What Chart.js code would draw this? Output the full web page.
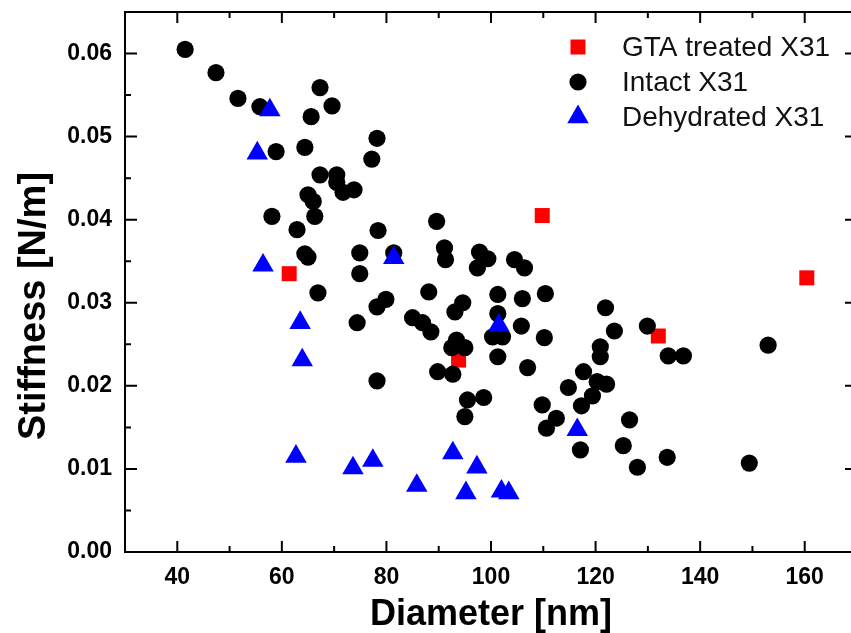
<!DOCTYPE html>
<html>
<head>
<meta charset="utf-8">
<script src="https://cdn.jsdelivr.net/npm/chart.js"></script>
<style>
    html, body { margin: 0; padding: 0; background: #fff; overflow: hidden; width: 851px; height: 633px; }
    canvas { display: block; }
</style>
</head>
<body>
<canvas id="stiffnessChart" width="857" height="633"></canvas>
<script>
const seriesNames = ['GTA treated X31', 'Intact X31', 'Dehydrated X31'];
const seriesColors = ['#ff0000', '#000000', '#0000ff'];

const xTicks = [40, 60, 80, 100, 120, 140, 160];
const yTicks = [0, 0.01, 0.02, 0.03, 0.04, 0.05, 0.06];

const gtaDiameter = [61.4, 109.8, 93.8, 132.0, 160.4];
const gtaStiffness = [0.0335, 0.0405, 0.0231, 0.0260, 0.0330];

const intactDiameter = [
    41.5, 47.4, 51.6, 55.8, 58.9, 64.4, 67.3, 69.6, 65.6, 78.2,
    77.2, 67.3, 70.5, 70.5, 71.7, 73.8, 65.0, 66.0, 66.3, 58.1,
    62.9, 78.4, 89.6, 64.4, 65.0, 74.9, 81.4, 74.9, 91.1, 91.3,
    97.8, 99.4, 97.4, 104.5, 106.4, 66.9, 79.9, 78.2, 88.1, 94.6,
    93.1, 74.4, 85.0, 86.9, 88.5, 101.3, 101.3, 106.0, 110.4, 105.8,
    100.3, 102.2, 110.2, 93.4, 92.5, 95.0, 101.3, 107.0, 89.8, 92.7,
    78.2, 95.5, 98.6, 95.0, 109.8, 112.5, 110.6, 121.9, 123.6, 129.9,
    133.9, 136.8, 153.0, 120.9, 120.9, 117.7, 120.3, 122.1, 114.8, 119.4,
    117.3, 117.1, 126.5, 125.3, 128.0, 133.7, 149.4
];
const intactStiffness = [
    0.0605, 0.0577, 0.0546, 0.0536, 0.0482, 0.0487, 0.0559, 0.0537, 0.0524, 0.0498,
    0.0473, 0.0454, 0.0454, 0.0445, 0.0433, 0.0436, 0.0430, 0.0422, 0.0404, 0.0404,
    0.0388, 0.0387, 0.0398, 0.0359, 0.0355, 0.0360, 0.0360, 0.0335, 0.0366, 0.0352,
    0.0361, 0.0353, 0.0342, 0.0352, 0.0342, 0.0312, 0.0304, 0.0295, 0.0313, 0.0300,
    0.0289, 0.0276, 0.0282, 0.0276, 0.0265, 0.0310, 0.0287, 0.0305, 0.0311, 0.0272,
    0.0259, 0.0259, 0.0258, 0.0255, 0.0246, 0.0246, 0.0235, 0.0222, 0.0217, 0.0214,
    0.0206, 0.0183, 0.0186, 0.0163, 0.0177, 0.0161, 0.0149, 0.0294, 0.0266, 0.0272,
    0.0236, 0.0236, 0.0249, 0.0247, 0.0235, 0.0217, 0.0205, 0.0202, 0.0198, 0.0188,
    0.0176, 0.0123, 0.0159, 0.0128, 0.0102, 0.0114, 0.0107
];

const dehydratedDiameter = [
    57.7, 55.3, 56.4, 81.4, 63.5, 63.9, 101.5, 116.5, 62.7, 73.6,
    77.4, 85.8, 92.7, 97.3, 95.2, 102.0, 103.4
];
const dehydratedStiffness = [
    0.0532, 0.0480, 0.0345, 0.0354, 0.0276, 0.0231, 0.0273, 0.0147, 0.0115, 0.0101,
    0.0110, 0.0080, 0.0119, 0.0102, 0.0071, 0.0073, 0.0071
];

const FONT = "'Liberation Sans', Arial, sans-serif";

function toPoints(xs, ys) {
    return xs.map((x, i) => ({ x: x, y: ys[i] }));
}

const pointStyles = [
    { pointStyle: 'rect', radius: 10.6 },
    { pointStyle: 'circle', radius: 8.6 },
    { pointStyle: 'triangle', radius: 12.4 }
];

// frame, inner ticks, axis titles and legend drawn over the plot
const framePlugin = {
    id: 'frame',
    afterDraw(chart) {
        const ctx = chart.ctx;
        const { left, right, top, bottom } = chart.chartArea;
        const xs = chart.scales.x;
        const ys = chart.scales.y;
        ctx.save();
        ctx.strokeStyle = '#000';
        ctx.lineWidth = 2;
        ctx.strokeRect(left, top, right - left, bottom - top);

        const xMinor = xTicks.slice(0, -1).map((v, i) => (v + xTicks[i + 1]) / 2);
        xMinor.unshift(xTicks[0] - (xTicks[1] - xTicks[0]) / 2);
        const yMinor = yTicks.slice(0, -1).map((v, i) => (v + yTicks[i + 1]) / 2);
        yMinor.push(yTicks[yTicks.length - 1] + (yTicks[1] - yTicks[0]) / 2);

        ctx.beginPath();
        xTicks.forEach(v => {
            const px = xs.getPixelForValue(v);
            ctx.moveTo(px, bottom); ctx.lineTo(px, bottom - 11);
            ctx.moveTo(px, top); ctx.lineTo(px, top + 11);
        });
        xMinor.forEach(v => {
            const px = xs.getPixelForValue(v);
            ctx.moveTo(px, bottom); ctx.lineTo(px, bottom - 6);
            ctx.moveTo(px, top); ctx.lineTo(px, top + 6);
        });
        yTicks.forEach(v => {
            const py = ys.getPixelForValue(v);
            ctx.moveTo(left, py); ctx.lineTo(left + 12, py);
            ctx.moveTo(right, py); ctx.lineTo(right - 12, py);
        });
        yMinor.forEach(v => {
            const py = ys.getPixelForValue(v);
            ctx.moveTo(left, py); ctx.lineTo(left + 6, py);
            ctx.moveTo(right, py); ctx.lineTo(right - 6, py);
        });
        ctx.stroke();

        // axis titles
        ctx.fillStyle = '#000';
        ctx.font = 'bold 36px ' + FONT;
        ctx.textAlign = 'center';
        ctx.textBaseline = 'alphabetic';
        ctx.fillText('Diameter [nm]', 491, 625);

        ctx.save();
        ctx.translate(45, 306);
        ctx.rotate(-Math.PI / 2);
        ctx.font = 'bold 38px ' + FONT;
        ctx.fillText('Stiffness [N/m]', 0, 0);
        ctx.restore();

        // legend
        ctx.font = '28px ' + FONT;
        ctx.textAlign = 'left';
        ctx.textBaseline = 'middle';
        seriesNames.forEach((name, i) => {
            const rowY = top + 35 + i * 35;
            ctx.fillStyle = seriesColors[i];
            Chart.helpers.drawPoint(ctx, {
                pointStyle: pointStyles[i].pointStyle,
                radius: pointStyles[i].radius,
                rotation: 0,
                borderWidth: 0
            }, 578, rowY);
            ctx.fillStyle = '#111';
            ctx.fillText(name, 622, rowY + 1);
        });
        ctx.restore();
    }
};

const ctx = document.getElementById('stiffnessChart').getContext('2d');
new Chart(ctx, {
    type: 'scatter',
    data: {
        datasets: [
            {
                label: seriesNames[0],
                data: toPoints(gtaDiameter, gtaStiffness),
                backgroundColor: seriesColors[0],
                pointStyle: pointStyles[0].pointStyle,
                pointRadius: pointStyles[0].radius,
                borderWidth: 0,
                order: 3
            },
            {
                label: seriesNames[1],
                data: toPoints(intactDiameter, intactStiffness),
                backgroundColor: seriesColors[1],
                pointStyle: pointStyles[1].pointStyle,
                pointRadius: pointStyles[1].radius,
                borderWidth: 0,
                order: 2
            },
            {
                label: seriesNames[2],
                data: toPoints(dehydratedDiameter, dehydratedStiffness),
                backgroundColor: seriesColors[2],
                pointStyle: pointStyles[2].pointStyle,
                pointRadius: pointStyles[2].radius,
                borderWidth: 0,
                order: 1
            }
        ]
    },
    options: {
        responsive: false,
        animation: false,
        devicePixelRatio: 1,
        events: [],
        layout: { autoPadding: false, padding: { top: 12, left: 0, right: 0, bottom: 0 } },
        plugins: {
            legend: { display: false },
            tooltip: { enabled: false }
        },
        scales: {
            x: {
                type: 'linear',
                min: 30,
                max: 170,
                grid: { display: false, drawTicks: false },
                border: { display: false },
                afterBuildTicks: s => { s.ticks = xTicks.map(v => ({ value: v })); },
                afterFit: s => { s.height = 81; s.paddingLeft = 0; s.paddingRight = 0; },
                ticks: {
                    padding: 12,
                    color: '#000',
                    font: { family: FONT, size: 23, weight: 'bold' },
                    maxRotation: 0,
                    callback: v => String(v)
                }
            },
            y: {
                type: 'linear',
                min: 0,
                max: 0.065,
                grid: { display: false, drawTicks: false },
                border: { display: false },
                afterBuildTicks: s => { s.ticks = yTicks.map(v => ({ value: v })); },
                afterFit: s => { s.width = 125; s.paddingTop = 0; s.paddingBottom = 0; },
                ticks: {
                    padding: 13,
                    color: '#000',
                    font: { family: FONT, size: 23, weight: 'bold' },
                    callback: v => v.toFixed(2)
                }
            }
        }
    },
    plugins: [framePlugin]
});
</script>
</body>
</html>
